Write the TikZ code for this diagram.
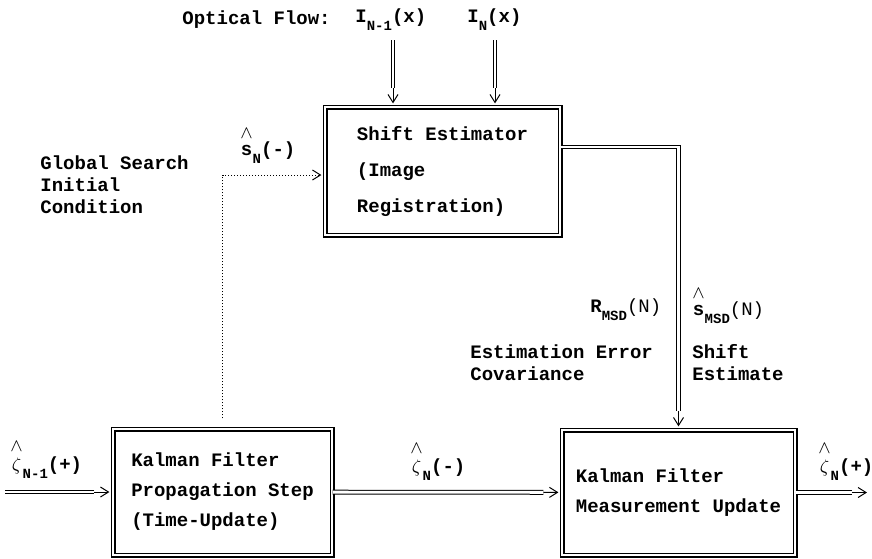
\documentclass[tikz,border=0pt]{standalone}
\usepackage{fontspec}
\setmainfont{Liberation Mono}
\usetikzlibrary{arrows.meta,calc}
\newcommand{\hatted}[1]{\shortstack{$\wedge$\\#1}}
\newcommand{\lowsub}[1]{\raisebox{-0.8ex}{\fontsize{7}{7}\selectfont #1}}
\def\feed#1{\draw[tipline] #1; \draw[shaft] #1;}

\begin{document}
\begin{tikzpicture}[x=0.5pt,y=-0.5pt,
	every node/.style={font=\bfseries\fontsize{9.5}{11}\selectfont},
	box/.style={draw, double, double distance=1.3pt, line width=0.6pt, align=left},
	label/.style={anchor=west, inner sep=0pt, align=left},
	shaft/.style={double, double distance=1.4pt, line width=0.5pt, shorten >=9pt},
	tipline/.style={line width=0.5pt, shorten >=1.5pt, -{Straight Barb[length=4pt,width=5pt]}}]
	%%%%% START %%%%%
	\useasboundingbox (0,0) rectangle (872,558);
	
	\node[box, minimum width=117.5pt, minimum height=64pt,
		execute at begin node=\setlength{\baselineskip}{18pt}] (shiftest) at (442.5,171)
		{Shift Estimator\\(Image\\Registration)};
	\node[box, minimum width=109.5pt, minimum height=63pt,
		execute at begin node=\setlength{\baselineskip}{15pt}] (kfprop) at (222.5,492)
		{Kalman Filter\\Propagation Step\\(Time-Update)};
	\node[box, minimum width=116.5pt, minimum height=62.5pt,
		execute at begin node=\setlength{\baselineskip}{15pt}] (kfmeas) at (678.5,492.5)
		{Kalman Filter\\Measurement Update};
	
	% inputs on top
	\node[label] (flowlbl) at (182,20) {Optical Flow:};
	\node[label] (imgA) at (355,20) {I\lowsub{N-1}(x)};
	\node[label] (imgB) at (467,20) {I\lowsub{N}(x)};
	\coordinate (imA) at (393,40);
	\coordinate (imB) at (495,40);
	\feed{(imA) -- (imA |- shiftest.north)}
	\feed{(imB) -- (imB |- shiftest.north)}
	
	% prediction to shift estimator
	\coordinate (sNin) at ($(shiftest.west)+(0,4)$);
	\draw[densely dotted, line width=0.5pt, shorten <=5pt, shorten >=1.5pt,
		-{Straight Barb[length=4pt,width=5pt]}] (kfprop.north) |- (sNin);
	\node[label] (sNlbl) at (240,146) {\hatted{s}\lowsub{N}(-)};
	\node[label, execute at begin node=\setlength{\baselineskip}{11pt}] (gslbl) at (40,185)
		{Global Search\\Initial\\Condition};
	
	% measurement to update
	\coordinate (smsd) at ($(shiftest.east)+(0,-24)$);
	\feed{(smsd) -| (kfmeas.north)}
	\node[label] (rlbl) at (590,310) {R\lowsub{MSD}{\mdseries(N)}};
	\node[label] (smsdlbl) at (692,306) {\hatted{s}\lowsub{MSD}{\mdseries(N)}};
	\node[label, execute at begin node=\setlength{\baselineskip}{11pt}] (eelbl) at (470,363)
		{Estimation Error\\Covariance};
	\node[label, execute at begin node=\setlength{\baselineskip}{11pt}] (selbl) at (692,363)
		{Shift\\Estimate};
	
	% state chain
	\coordinate (zin) at (5,492);
	\coordinate (zout) at (870,492.5);
	\feed{(zin) -- (kfprop)}
	\feed{(kfprop) -- (kfmeas)}
	\feed{(kfmeas) -- (zout)}
	\node[label] (zinlbl) at (10,460) {\hatted{$\zeta$}\lowsub{N-1}(+)};
	\node[label] (zmlbl) at (410,462) {\hatted{$\zeta$}\lowsub{N}(-)};
	\node[label] (zoutlbl) at (818,462) {\hatted{$\zeta$}\lowsub{N}(+)};
	
	%%%%% END %%%%%
\end{tikzpicture}
\end{document}
